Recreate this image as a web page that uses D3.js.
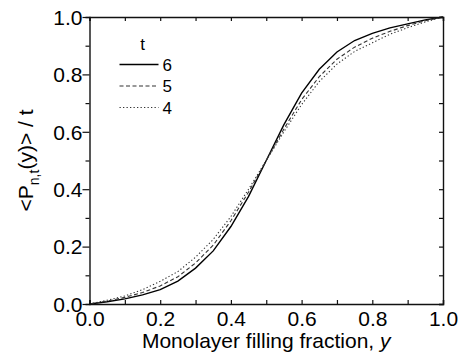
<!DOCTYPE html>
<html>
<head>
<meta charset="utf-8">
<script src="https://cdn.jsdelivr.net/npm/d3@7"></script>
<style>
  body { margin: 0; background: #fff; }
  text { font-family: "Liberation Sans", Arial, sans-serif; fill: #000; }
</style>
</head>
<body>
<div id="chart"></div>
<script>
// values, filling fraction y in steps of 0.05
var yValues = [0, 0.05, 0.1, 0.15, 0.2, 0.25, 0.3, 0.35, 0.4, 0.45, 0.5,
               0.55, 0.6, 0.65, 0.7, 0.75, 0.8, 0.85, 0.9, 0.95, 1];
var t6 = [0, 0.008, 0.018, 0.032, 0.050, 0.080, 0.125, 0.185, 0.270, 0.375, 0.5,
          0.625, 0.735, 0.818, 0.878, 0.918, 0.943, 0.962, 0.976, 0.99, 1];
var t5 = [0, 0.010, 0.023, 0.040, 0.063, 0.095, 0.143, 0.205, 0.290, 0.390, 0.5,
          0.610, 0.712, 0.792, 0.853, 0.895, 0.926, 0.950, 0.970, 0.987, 1];
var t4 = [0, 0.013, 0.028, 0.050, 0.079, 0.113, 0.163, 0.225, 0.305, 0.400, 0.5,
          0.600, 0.695, 0.775, 0.836, 0.880, 0.910, 0.940, 0.963, 0.983, 1];
var seriesNames = ["6", "5", "4"];
var xTicks = [0, 0.2, 0.4, 0.6, 0.8, 1.0];
var yTicks = [0, 0.2, 0.4, 0.6, 0.8, 1.0];
var minorTicks = [0, 0.1, 0.2, 0.3, 0.4, 0.5, 0.6, 0.7, 0.8, 0.9, 1.0];

var margin = {top: 17, right: 15, bottom: 60, left: 89.5},
    width = 458 - margin.left - margin.right,
    height = 364 - margin.top - margin.bottom;

var svg = d3.select("#chart")
  .append("svg")
    .attr("width", 458)
    .attr("height", 364)
  .append("g")
    .attr("transform", "translate(" + margin.left + "," + margin.top + ")");

var x = d3.scaleLinear().domain([0, 1]).range([0, width]);
var y = d3.scaleLinear().domain([0, 1]).range([height, 0]);

// curves
var series = [
  {name: seriesNames[0], vals: t6, dash: null, color: "#000", w: 1.4},
  {name: seriesNames[1], vals: t5, dash: "4,2.5", color: "#333", w: 1.1},
  {name: seriesNames[2], vals: t4, dash: "1.3,2.2", color: "#333", w: 1.1}
];
var line = d3.line()
  .x(function(d) { return x(d[0]); })
  .y(function(d) { return y(d[1]); });

series.forEach(function(s) {
  svg.append("path")
    .datum(yValues.map(function(v, i) { return [v, s.vals[i]]; }))
    .attr("fill", "none")
    .attr("stroke", s.color)
    .attr("stroke-width", s.w)
    .attr("stroke-dasharray", s.dash)
    .attr("d", line);
});

// axes
var fmt = d3.format(".1f");
function isMajor(list, d) {
  return list.some(function(t) { return Math.abs(t - d) < 1e-9; });
}
var axBottom = svg.append("g")
  .attr("transform", "translate(0," + height + ")")
  .call(d3.axisBottom(x).tickValues(minorTicks).tickSize(-4).tickPadding(7)
    .tickFormat(function(d) { return isMajor(xTicks, d) ? fmt(d) : ""; }));
var axLeft = svg.append("g")
  .call(d3.axisLeft(y).tickValues(minorTicks).tickSize(4).tickPadding(3)
    .tickFormat(function(d) { return isMajor(yTicks, d) ? fmt(d) : ""; }));
axLeft.selectAll(".tick line").attr("x2", function(d, i) { return i % 2 == 0 ? -7 : -4; });
var axTop = svg.append("g")
  .call(d3.axisTop(x).tickValues(minorTicks).tickSize(-4).tickFormat(""));
var axRight = svg.append("g")
  .attr("transform", "translate(" + width + ",0)")
  .call(d3.axisRight(y).tickValues(minorTicks).tickSize(-4).tickFormat(""));

[axBottom, axLeft, axTop, axRight].forEach(function(g) {
  g.select(".domain").attr("stroke", "#111").attr("stroke-width", 1.4);
  g.selectAll(".tick line").attr("stroke", "#111").attr("stroke-width", 1.2);
  g.selectAll("text").attr("font-size", "21px")
    .attr("font-family", "'Liberation Sans', Arial, sans-serif").attr("fill", "#000");
});
axLeft.selectAll(".tick text").attr("dy", "0.35em");

// axis titles
svg.append("text")
  .attr("x", width / 2)
  .attr("y", height + 44)
  .attr("text-anchor", "middle")
  .attr("font-size", "21px")
  .html("Monolayer filling fraction, <tspan font-style='italic'>y</tspan>");

var yt = svg.append("text")
  .attr("transform", "translate(-57," + (height / 2) + ") rotate(-90)")
  .attr("text-anchor", "middle")
  .attr("font-size", "21px");
yt.append("tspan").text("<P");
yt.append("tspan").attr("font-size", "14px").attr("dy", 6).text("n,t");
yt.append("tspan").attr("dy", -6).text("(y)> / t");

// legend
var legend = svg.append("g").attr("transform", "translate(30,0)");
legend.append("text").attr("x", 23).attr("y", 33).attr("text-anchor", "middle")
  .attr("font-size", "17px").text("t");
series.forEach(function(s, i) {
  var ly = 47.5 + i * 21.5;
  legend.append("line")
    .attr("x1", 0).attr("x2", 39).attr("y1", ly).attr("y2", ly)
    .attr("stroke", s.color).attr("stroke-width", s.w)
    .attr("stroke-dasharray", s.dash);
  legend.append("text").attr("x", 43).attr("y", ly + 6)
    .attr("font-size", "17px").text(s.name);
});
</script>
</body>
</html>
